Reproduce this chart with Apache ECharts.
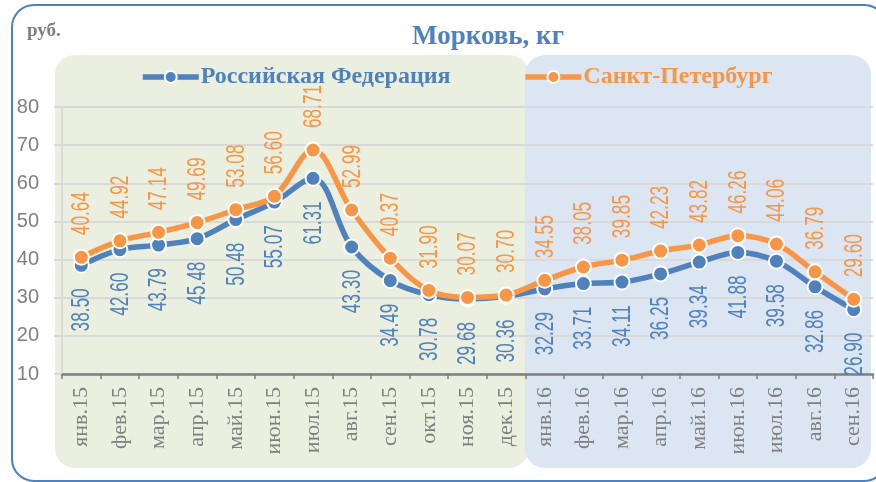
<!DOCTYPE html>
<html>
<head>
<meta charset="utf-8">
<script src="https://cdn.jsdelivr.net/npm/echarts@6/dist/echarts.min.js"></script>
<style>
html,body{margin:0;padding:0;background:#fff;}
#chart{width:876px;height:482px;}
</style>
</head>
<body>
<div id="chart"></div>
<script>
const categories = ['янв.15','фев.15','мар.15','апр.15','май.15','июн.15','июл.15','авг.15','сен.15','окт.15','ноя.15','дек.15',
  'янв.16','фев.16','мар.16','апр.16','май.16','июн.16','июл.16','авг.16','сен.16'];
const russia = [38.50,42.60,43.79,45.48,50.48,55.07,61.31,43.30,34.49,30.78,29.68,30.36,32.29,33.71,34.11,36.25,39.34,41.88,39.58,32.86,26.90];
const spb = [40.64,44.92,47.14,49.69,53.08,56.60,68.71,52.99,40.37,31.90,30.07,30.70,34.55,38.05,39.85,42.23,43.82,46.26,44.06,36.79,29.60];
const yTicks = {min:10, max:80, interval:10};

const BLUE = '#4f81bd', ORANGE = '#f79646';
const SANS = "'Liberation Sans','Arial',sans-serif";
const SERIF = "'Liberation Serif','Times New Roman',serif";

const chart = echarts.init(document.getElementById('chart'), null, {renderer:'canvas'});

function mkSeries(name, data, color, z){
  return {
    name, type:'line', data, smooth:0.35,
    symbol:'circle', symbolSize:15,
    lineStyle:{color, width:5.5},
    itemStyle:{color, borderColor:'#fff', borderWidth:2},
    emphasis:{disabled:true},
    z
  };
}

function mkLabels(data, color, below){
  return {
    type:'custom', silent:true, clip:false, z:6,
    data: data.map((v,i)=>[i,v]),
    renderItem(params, api){
      const v = api.value(1);
      const pt = api.coord([api.value(0), v]);
      return {
        type:'text',
        x: pt[0] + 1,
        y: below ? pt[1] + 23 : pt[1] - 22,
        rotation: Math.PI/2,
        scaleX: 0.69,
        style:{
          text: v.toFixed(2), fill: color,
          font: "25px 'Liberation Sans', sans-serif",
          align: below ? 'right' : 'left',
          verticalAlign:'middle'
        }
      };
    }
  };
}

chart.setOption({
  animation:false,
  graphic:[
    {type:'rect', z:-20, shape:{x:12,y:5,width:874,height:476,r:22}, style:{fill:'#fff', stroke:BLUE, lineWidth:2}},
    {type:'rect', z:-15, shape:{x:55,y:55,width:474,height:413,r:20}, style:{fill:'#ebefdf'}},
    {type:'rect', z:-14, shape:{x:525,y:55,width:346,height:413,r:20}, style:{fill:'#dce6f2'}},
    {type:'text', z:5, style:{x:27,y:31,text:'руб.',fill:'#7f7f7f',font:"bold 19px 'Liberation Serif',serif",verticalAlign:'middle'}}
  ],
  title:{
    text:'Морковь, кг', left:483, top:19, textAlign:'center',
    textStyle:{color:BLUE, fontFamily:SERIF, fontWeight:'bold', fontSize:27}
  },
  legend:{
    left:135, top:60, itemGap:72, itemWidth:56, itemHeight:15,
    lineStyle:{width:5.5},
    itemStyle:{borderColor:'#fff', borderWidth:2},
    textStyle:{fontFamily:SERIF, fontWeight:'bold', fontSize:24, color:BLUE, padding:[0,0,0,-3]},
    data:[
      {name:'Российская Федерация', textStyle:{color:BLUE}},
      {name:'Санкт-Петербург', textStyle:{color:ORANGE}}
    ]
  },
  grid:{left:62, right:3, top:107, bottom:108},
  xAxis:{
    type:'category', data:categories, boundaryGap:true,
    axisLine:{lineStyle:{color:'#7f7f7f', width:2.5}},
    axisTick:{show:true, length:5, lineStyle:{color:'#7f7f7f', width:1.5}},
    axisLabel:{
      rotate:90, margin:13, interval:0,
      color:'#7f7f7f', fontFamily:SERIF, fontSize:22
    }
  },
  yAxis:{
    type:'value', min:yTicks.min, max:yTicks.max, interval:yTicks.interval,
    axisLine:{show:true, lineStyle:{color:'#d9d9d9', width:2}},
    axisTick:{show:true, length:8, lineStyle:{color:'#d9d9d9', width:2}},
    splitLine:{lineStyle:{color:'#d9d9d9', width:2}},
    axisLabel:{margin:23, color:'#7f7f7f', fontFamily:SANS, fontSize:20}
  },
  series:[
    mkSeries('Российская Федерация', russia, BLUE, 3),
    mkSeries('Санкт-Петербург', spb, ORANGE, 4),
    mkLabels(russia, BLUE, true),
    mkLabels(spb, ORANGE, false)
  ]
});
</script>
</body>
</html>
